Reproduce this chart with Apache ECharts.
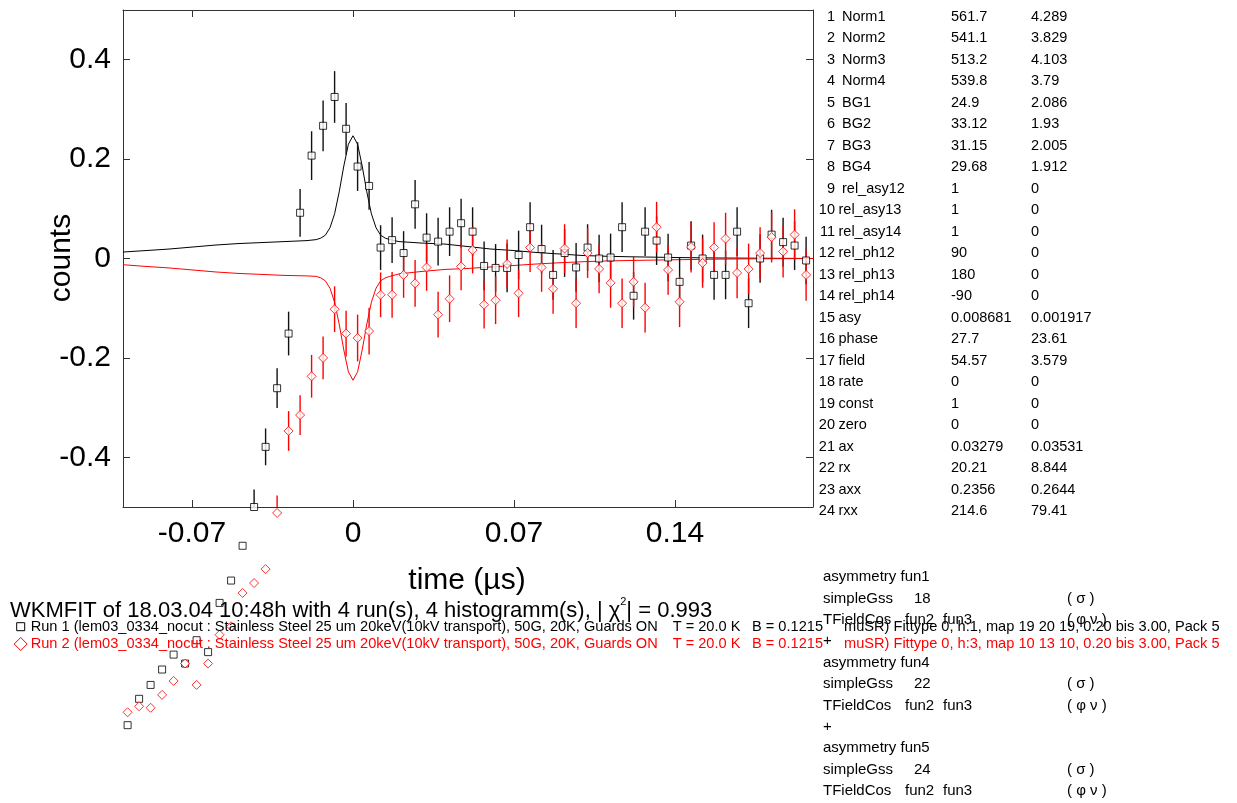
<!DOCTYPE html>
<html>
<head>
<meta charset="utf-8">
<script src="https://cdn.jsdelivr.net/npm/echarts@6/dist/echarts.min.js"></script>
<style>
html,body{margin:0;padding:0;background:#fff;}
#c{width:1237px;height:803px;}
</style>
</head>
<body>
<div id="c"></div>
<script>
// ---------------- data ----------------
const times = [-0.098,-0.093,-0.088,-0.083,-0.078,-0.073,-0.068,-0.063,-0.058,-0.053,
  -0.048,-0.043,-0.038,-0.033,-0.028,-0.023,-0.018,-0.013,-0.008,-0.003,
  0.002,0.007,0.012,0.017,0.022,0.027,0.032,0.037,0.042,0.047,
  0.052,0.057,0.062,0.067,0.072,0.077,0.082,0.087,0.092,0.097,
  0.102,0.107,0.112,0.117,0.122,0.127,0.132,0.137,0.142,0.147,
  0.152,0.157,0.162,0.167,0.172,0.177,0.182,0.187,0.192,0.197];

const run1 = [-0.939,-0.886,-0.858,-0.827,-0.797,-0.815,-0.768,-0.792,-0.693,-0.648,
  -0.578,-0.500,-0.379,-0.261,-0.151,0.092,0.207,0.267,0.325,0.261,
  0.185,0.146,0.022,0.037,0.011,0.109,0.042,0.034,0.054,0.071,
  0.054,-0.015,-0.019,-0.019,0.007,0.063,0.019,-0.033,0.011,-0.018,
  0.022,0.0,0.002,0.063,-0.075,0.054,0.036,0.002,-0.047,0.026,
  0.0,-0.033,-0.033,0.054,-0.090,0.0,0.048,0.033,0.026,-0.004];

const run1Err = [0.030,0.030,0.031,0.031,0.032,0.032,0.033,0.033,0.034,0.034,
  0.035,0.035,0.037,0.040,0.044,0.048,0.049,0.051,0.052,0.052,
  0.049,0.048,0.045,0.046,0.044,0.049,0.049,0.048,0.049,0.049,
  0.049,0.049,0.048,0.049,0.049,0.050,0.049,0.050,0.048,0.049,
  0.047,0.048,0.048,0.050,0.048,0.049,0.049,0.048,0.049,0.049,
  0.048,0.050,0.049,0.049,0.050,0.049,0.050,0.049,0.049,0.048];

const run2 = [-0.913,-0.901,-0.904,-0.878,-0.850,-0.815,-0.858,-0.815,-0.757,-0.740,
  -0.673,-0.653,-0.625,-0.512,-0.347,-0.315,-0.237,-0.200,-0.102,-0.151,
  -0.160,-0.146,-0.073,-0.073,-0.033,-0.050,-0.018,-0.113,-0.081,-0.016,
  0.017,-0.093,-0.084,-0.011,-0.070,0.022,-0.018,-0.061,0.020,-0.090,
  0.011,-0.021,-0.049,-0.090,-0.047,-0.099,0.063,-0.023,-0.087,0.023,
  -0.009,0.022,0.040,-0.029,-0.021,0.011,0.043,0.014,0.048,-0.033];

const run2Err = [0.028,0.028,0.029,0.029,0.030,0.030,0.031,0.031,0.032,0.032,
  0.033,0.034,0.034,0.035,0.040,0.040,0.043,0.043,0.046,0.046,
  0.047,0.047,0.045,0.046,0.046,0.047,0.047,0.046,0.047,0.048,
  0.047,0.048,0.048,0.049,0.048,0.049,0.049,0.050,0.049,0.050,
  0.050,0.049,0.050,0.050,0.051,0.050,0.051,0.050,0.051,0.051,
  0.050,0.051,0.052,0.051,0.051,0.052,0.051,0.052,0.051,0.052];

const fitT = [-0.1,-0.09,-0.08,-0.07,-0.06,-0.05,-0.04,-0.03,-0.02,-0.016,
  -0.014,-0.012,-0.010,-0.008,-0.006,-0.004,-0.002,0,0.002,0.004,
  0.006,0.008,0.010,0.012,0.014,0.016,0.02,0.03,0.04,0.05,
  0.06,0.07,0.08,0.09,0.10,0.11,0.12,0.14,0.16,0.18,0.2];
const fit1 = [0.013,0.016,0.019,0.023,0.027,0.030,0.032,0.034,0.036,0.038,
  0.041,0.047,0.062,0.090,0.134,0.186,0.230,0.247,0.230,0.186,
  0.134,0.090,0.062,0.047,0.041,0.038,0.034,0.031,0.029,0.024,
  0.019,0.016,0.012,0.009,0.006,0.0045,0.0035,0.002,0.001,0.0005,0.0];
const fit2 = [-0.0125,-0.016,-0.019,-0.023,-0.027,-0.030,-0.032,-0.034,-0.035,-0.036,
  -0.039,-0.045,-0.060,-0.088,-0.132,-0.184,-0.228,-0.245,-0.228,-0.184,
  -0.132,-0.088,-0.060,-0.045,-0.039,-0.036,-0.031,-0.026,-0.022,-0.020,
  -0.017,-0.014,-0.011,-0.0085,-0.0065,-0.005,-0.004,-0.0025,-0.0012,-0.0005,0.0];

const xTicks = [-0.07, 0, 0.07, 0.14];
const yTicks = [-0.4, -0.2, 0, 0.2, 0.4];

const paramNames = ['Norm1','Norm2','Norm3','Norm4','BG1','BG2','BG3','BG4','rel_asy12','rel_asy13','rel_asy14',
  'rel_ph12','rel_ph13','rel_ph14','asy','phase','field','rate','const','zero','ax','rx','axx','rxx'];
const paramVals = ['561.7','541.1','513.2','539.8','24.9','33.12','31.15','29.68','1','1','1',
  '90','180','-90','0.008681','27.7','54.57','0','1','0','0.03279','20.21','0.2356','214.6'];
const paramErrs = ['4.289','3.829','4.103','3.79','2.086','1.93','2.005','1.912','0','0','0',
  '0','0','0','0.001917','23.61','3.579','0','0','0','0.03531','8.844','0.2644','79.41'];

const titleText = 'WKMFIT of 18.03.04 10:48h with 4 run(s), 4 histogramm(s), | \u03c7';
const titleEnd = '| = 0.993';
const run1Label = ['Run 1 (lem03_0334_nocut : Stainless Steel 25 um 20keV(10kV transport), 50G, 20K, Guards ON',
  'T = 20.0 K', 'B = 0.1215', 'muSR) Fittype 0, h:1, map 19 20 19, 0.20 bis 3.00, Pack 5'];
const run2Label = ['Run 2 (lem03_0334_nocut : Stainless Steel 25 um 20keV(10kV transport), 50G, 20K, Guards ON',
  'T = 20.0 K', 'B = 0.1215', 'muSR) Fittype 0, h:3, map 10 13 10, 0.20 bis 3.00, Pack 5'];
const theoryLines = [
  ['asymmetry fun1'], ['simpleGss', '18', '( \u03c3 )'], ['TFieldCos', 'fun2', 'fun3', '( \u03c6 \u03bd )'], ['+'],
  ['asymmetry fun4'], ['simpleGss', '22', '( \u03c3 )'], ['TFieldCos', 'fun2', 'fun3', '( \u03c6 \u03bd )'], ['+'],
  ['asymmetry fun5'], ['simpleGss', '24', '( \u03c3 )'], ['TFieldCos', 'fun2', 'fun3', '( \u03c6 \u03bd )']
];

// ---------------- chart ----------------
const FONT = '"Liberation Sans", Arial, Helvetica, sans-serif';
const RED = '#ff0000';
const chart = echarts.init(document.getElementById('c'), null, {renderer: 'canvas'});

function pts(xs, ys) { return xs.map((x, i) => [x, ys[i]]); }
function errData(xs, ys, es) { return xs.map((x, i) => [x, ys[i], es[i]]); }

function errRender(color) {
  return function (params, api) {
    const t = api.value(0), y = api.value(1), e = api.value(2);
    const lo = Math.max(y - e, -0.5), hi = Math.min(y + e, 0.5);
    if (lo >= hi) return null;
    const p1 = api.coord([t, lo]), p2 = api.coord([t, hi]);
    return {type: 'line', shape: {x1: p1[0], y1: p1[1], x2: p2[0], y2: p2[1]},
      style: {stroke: color, lineWidth: 1.4}};
  };
}

const axisLineStyle = {color: '#333', width: 1};
const graphics = [];
function txt(x, y, text, size, color, align) {
  graphics.push({type: 'text', x: x, y: y, z: 100,
    style: {text: text, fontSize: size, fontFamily: FONT, fill: color || '#000', align: align || 'left', verticalAlign: 'middle'}});
}

// axis titles
graphics.push({type: 'text', x: 62, y: 258, rotation: Math.PI / 2, z: 100,
  style: {text: 'counts', fontSize: 30, fontFamily: FONT, fill: '#000', align: 'center', verticalAlign: 'middle'}});
graphics.push({type: 'text', x: 467, y: 581, z: 100,
  style: {text: 'time (\u00b5s)', fontSize: 30, fontFamily: FONT, fill: '#000', align: 'center', verticalAlign: 'middle'}});

// title with superscript
graphics.push({type: 'text', x: 10, y: 609, z: 100,
  style: {text: '{a|' + titleText + '}{b|2}{a|' + titleEnd + '}', fontFamily: FONT, fill: '#000', align: 'left', verticalAlign: 'middle',
    rich: {a: {fontSize: 22, fontFamily: FONT, lineHeight: 25, verticalAlign: 'bottom'},
           b: {fontSize: 11, fontFamily: FONT, lineHeight: 25, verticalAlign: 'top'}}}});

// run legends
const legX = [30.7, 672.7, 752, 844];
run1Label.forEach((s, i) => txt(legX[i], 627, s, 14.6, '#000'));
run2Label.forEach((s, i) => txt(legX[i], 644, s, 14.6, RED));
graphics.push({type: 'rect', shape: {x: 16.7, y: 622.7, width: 8, height: 8}, z: 100,
  style: {fill: '#fff', stroke: '#000', lineWidth: 1}});
graphics.push({type: 'polygon', shape: {points: [[20.7, 637.5], [27.2, 644], [20.7, 650.5], [14.2, 644]]}, z: 100,
  style: {fill: '#fff', stroke: RED, lineWidth: 1}});

// parameter table
paramNames.forEach((n, i) => {
  const y = 16.5 + 21.5 * i;
  const num = i + 1;
  txt(835, y, String(num), 14.5, '#000', 'right');
  txt(num < 10 ? 842 : 838.5, y, n, 14.5, '#000');
  txt(951, y, paramVals[i], 14.5, '#000');
  txt(1031, y, paramErrs[i], 14.5, '#000');
});

// theory block
theoryLines.forEach((parts, i) => {
  const y = 577 + 21.4 * i;
  if (parts.length === 1) { txt(823, y, parts[0], 15, '#000'); }
  else if (parts.length === 3) { txt(823, y, parts[0], 15, '#000'); txt(914, y, parts[1], 15, '#000'); txt(1067, y, parts[2], 15, '#000'); }
  else { txt(823, y, parts[0], 15, '#000'); txt(905, y, parts[1], 15, '#000'); txt(943, y, parts[2], 15, '#000'); txt(1067, y, parts[3], 15, '#000'); }
});

const option = {
  backgroundColor: '#fff',
  animation: false,
  grid: {left: 123, top: 10, width: 690, height: 497, containLabel: false},
  xAxis: [
    {type: 'value', min: -0.1, max: 0.2, position: 'bottom',
      axisLine: {show: true, onZero: false, lineStyle: axisLineStyle},
      axisTick: {show: true, inside: true, length: 7, customValues: xTicks, lineStyle: axisLineStyle},
      axisLabel: {show: true, customValues: xTicks, fontSize: 30, fontFamily: FONT, color: '#000', margin: 12},
      splitLine: {show: false}},
    {type: 'value', min: -0.1, max: 0.2, position: 'top',
      axisLine: {show: true, onZero: false, lineStyle: axisLineStyle},
      axisTick: {show: true, inside: true, length: 7, customValues: xTicks, lineStyle: axisLineStyle},
      axisLabel: {show: false}, splitLine: {show: false}}
  ],
  yAxis: [
    {type: 'value', min: -0.5, max: 0.5, position: 'left',
      axisLine: {show: true, onZero: false, lineStyle: axisLineStyle},
      axisTick: {show: true, inside: true, length: 7, customValues: yTicks, lineStyle: axisLineStyle},
      axisLabel: {show: true, customValues: yTicks, fontSize: 30, fontFamily: FONT, color: '#000', margin: 12},
      splitLine: {show: false}},
    {type: 'value', min: -0.5, max: 0.5, position: 'right',
      axisLine: {show: true, onZero: false, lineStyle: axisLineStyle},
      axisTick: {show: true, inside: true, length: 7, customValues: yTicks, lineStyle: axisLineStyle},
      axisLabel: {show: false}, splitLine: {show: false}}
  ],
  series: [
    {type: 'line', data: pts(fitT, fit1), showSymbol: false, symbol: 'none', lineStyle: {color: '#000', width: 1}, z: 2, silent: true},
    {type: 'line', data: pts(fitT, fit2), showSymbol: false, symbol: 'none', lineStyle: {color: RED, width: 1}, z: 2, silent: true},
    {type: 'custom', data: errData(times, run1, run1Err), renderItem: errRender('#111'), z: 3, silent: true},
    {type: 'custom', data: errData(times, run2, run2Err), renderItem: errRender(RED), z: 3, silent: true},
    {type: 'scatter', data: pts(times, run1), symbol: 'rect', symbolSize: 7, clip: false, z: 5,
      itemStyle: {color: '#fff', borderColor: '#000', borderWidth: 1}},
    {type: 'scatter', data: pts(times, run2), symbol: 'diamond', symbolSize: 9, clip: false, z: 6,
      itemStyle: {color: '#fff', borderColor: RED, borderWidth: 1}}
  ],
  graphic: graphics
};
chart.setOption(option);
</script>
</body>
</html>
